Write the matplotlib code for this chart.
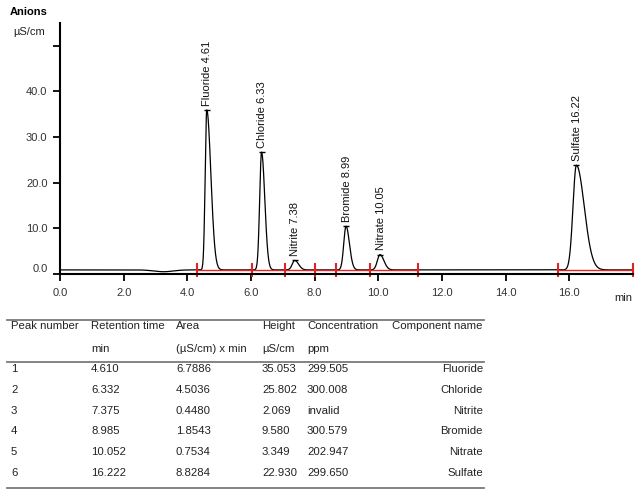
import numpy as np
import matplotlib
matplotlib.use('Agg')
import matplotlib.pyplot as plt
import matplotlib.transforms as mtransforms
from matplotlib.lines import Line2D

plt.rcParams['font.family'] = ['Liberation Sans', 'DejaVu Sans']

# peak table values
peak_no = ['1', '2', '3', '4', '5', '6']
ret_time = [4.610, 6.332, 7.375, 8.985, 10.052, 16.222]
area = [6.7886, 4.5036, 0.4480, 1.8543, 0.7534, 8.8284]
height = [35.053, 25.802, 2.069, 9.580, 3.349, 22.930]
conc = ['299.505', '300.008', 'invalid', '300.579', '202.947', '299.650']
names = ['Fluoride', 'Chloride', 'Nitrite', 'Bromide', 'Nitrate', 'Sulfate']
peak_labels = ['Fluoride 4.61', 'Chloride 6.33', 'Nitrite 7.38',
               'Bromide 8.99', 'Nitrate 10.05', 'Sulfate 16.22']
tailing = [2.6, 1.7, 1.5, 1.5, 1.5, 2.3]   # right/left width ratio
width_scale = 1.15                          # peaks look a bit wider than area/height gives

baseline = 0.9
dip_time, dip_depth, dip_width = 3.25, -0.4, 0.3

# integration limits (red marks)
bounds = [4.30, 6.04, 7.07, 8.01, 8.66, 9.74, 11.24, 15.64, 18.0]
red_segments = [(4.30, 11.24), (15.64, 18.0)]

header1 = ['Peak number', 'Retention time', 'Area', 'Height', 'Concentration', 'Component name']
header2 = ['', 'min', '(\u00b5S/cm) x min', '\u00b5S/cm', 'ppm', '']

W, H = 640, 496
fx = lambda px: px / W
fy = lambda py: 1 - py / H

fig = plt.figure(figsize=(6.4, 4.96), dpi=100)
ax = fig.add_axes([fx(60), fy(274), fx(633) - fx(60), fy(23) - fy(274)])

# build the trace from the peak table
t = np.linspace(0, 18, 6000)
sig = np.full_like(t, baseline)
sig += dip_depth * np.exp(-0.5 * ((t - dip_time) / dip_width) ** 2)
for rt, a, h, r in zip(ret_time, area, height, tailing):
    sl = width_scale * 2 * a / (h * np.sqrt(2 * np.pi) * (1 + r))
    s = np.where(t < rt, sl, sl * r)
    sig += h * np.exp(-0.5 * ((t - rt) / s) ** 2)

ax.plot(t, sig, color='black', lw=0.9)

red = '#e02424'
for a0, a1 in red_segments:
    ax.plot([a0, a1], [baseline, baseline], color=red, lw=1.0)
ax.vlines(bounds, baseline - 1.5, baseline + 1.5, color=red, lw=1.5, clip_on=False)

for rt, h, lab in zip(ret_time, height, peak_labels):
    top = baseline + h
    ax.plot([rt], [top], marker='_', ms=5, mew=1, color='black')
    ax.annotate(lab, xy=(rt, top), xytext=(0.5, 3), textcoords='offset points',
                rotation=90, ha='center', va='bottom', fontsize=8, color='#111111')

ax.set_xlim(0, 18)
ax.set_ylim(0, 55)
ax.set_xticks(np.arange(0, 17, 2))
ax.set_xticklabels([f'{v:.1f}' for v in np.arange(0, 17, 2)])
ax.set_yticks([0, 10, 20, 30, 40, 50])
ax.set_yticklabels(['0.0', '10.0', '20.0', '30.0', '40.0', ''])
for sp in ['top', 'right']:
    ax.spines[sp].set_visible(False)
for sp in ['left', 'bottom']:
    ax.spines[sp].set_linewidth(1.5)
ax.tick_params(direction='out', length=5, width=1.3, labelsize=8,
               labelcolor='#333333')
ax.tick_params(axis='x', pad=5)
ax.tick_params(axis='y', pad=4)
lab0 = ax.get_yticklabels()[0]
lab0.set_transform(lab0.get_transform() +
                   mtransforms.ScaledTranslation(0, 4 / 72, fig.dpi_scale_trans))

fig.text(fx(10), fy(12), 'Anions', fontsize=8, fontweight='bold', va='center')
fig.text(fx(13), fy(32), '\u00b5S/cm', fontsize=8, va='center', color='#222222')
fig.text(fx(632), fy(298), 'min', fontsize=8, va='center', ha='right', color='#222222')

# result table
col_x = [11, 91, 176, 262, 307, 483]
row_y = [369.3, 390, 410.7, 431.4, 452, 472.7]
line_col = '#7a7a7a'
for yy in [320, 361.5, 487.5]:
    fig.add_artist(Line2D([fx(7), fx(484)], [fy(yy), fy(yy)], color=line_col,
                          lw=1.3, transform=fig.transFigure))

tkw = dict(fontsize=8.2, va='center', color='#222222')
for i, txt in enumerate(header1):
    if i == 5:
        fig.text(fx(483), fy(326), txt, ha='right', **tkw)
    else:
        fig.text(fx(col_x[i]), fy(326), txt, **tkw)
for i, txt in enumerate(header2):
    if txt:
        fig.text(fx(col_x[i]), fy(349), txt, **tkw)

for k, yy in enumerate(row_y):
    fig.text(fx(col_x[0]), fy(yy), peak_no[k], **tkw)
    fig.text(fx(col_x[1]), fy(yy), f'{ret_time[k]:.3f}', **tkw)
    fig.text(fx(col_x[2]), fy(yy), f'{area[k]:.4f}', **tkw)
    fig.text(fx(col_x[3]), fy(yy), f'{height[k]:.3f}', **tkw)
    fig.text(fx(col_x[4]), fy(yy), conc[k], **tkw)
    fig.text(fx(col_x[5]), fy(yy), names[k], ha='right', **tkw)

fig.savefig('out.png', dpi=100)
